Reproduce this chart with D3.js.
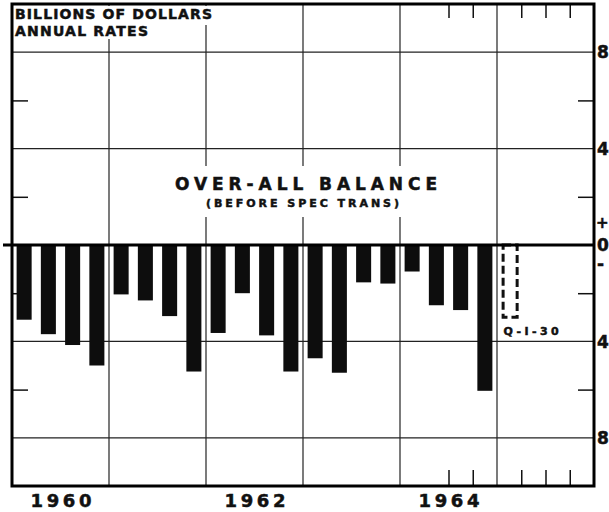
<!DOCTYPE html>
<html>
<head>
<meta charset="utf-8">
<script src="https://cdn.jsdelivr.net/npm/d3@7"></script>
<style>
  body { margin: 0; background: #fff; }
  svg { display: block; }
  text { font-family: "DejaVu Sans", sans-serif; font-weight: bold; fill: #111; stroke: #111; stroke-width: 0.5; }
</style>
</head>
<body>
<svg id="chart" width="609" height="512"></svg>
<script>
// Quarterly over-all balance, billions of dollars, annual rates
const years = [1960, 1961, 1962, 1963, 1964, 1965];
const quarters = ["Q1", "Q2", "Q3", "Q4"];
const balance = [
    -3.1, -3.7, -4.15, -5.0,    // 1960
    -2.05, -2.3, -2.95, -5.25,  // 1961
    -3.65, -2.0, -3.75, -5.25,  // 1962
    -4.7, -5.3, -1.55, -1.6,    // 1963
    -1.1, -2.5, -2.7, -6.05     // 1964
];
const prelimValue = -3.0;       // 1965 Q-I (dashed)
const prelimLabel = "Q-I-30";
const yearLabels = ["1960", "1962", "1964"];
const gridValues = [8, 4, -4, -8];
const minorTicks = [6, 2, -2, -6];
const edgeTicks = [1964.5, 1964.75, 1965.25, 1965.5, 1965.75];
const rightLabels = [
    { v: 8, t: "8" }, { v: 4, t: "4" }, { v: 0, t: "0" }, { v: -4, t: "4" }, { v: -8, t: "8" }
];

const svg = d3.select("#chart");
const plotLeft = 12, plotRight = 594, plotTop = 4, plotBottom = 486;

const x = d3.scaleLinear().domain([1960, 1966]).range([plotLeft, plotRight]);
const y = d3.scaleLinear().domain([-10, 10]).range([plotBottom, plotTop]);

// one band per quarter, 1960 Q1 .. 1965 Q4
const qKeys = [];
years.forEach(yr => quarters.forEach(q => qKeys.push(yr + q)));
const band = d3.scaleBand().domain(qKeys).range([plotLeft, plotRight])
    .paddingInner(0.38).paddingOuter(0.19);

// grid
svg.append("g").selectAll("line").data(gridValues).enter().append("line")
    .attr("x1", plotLeft).attr("x2", plotRight)
    .attr("y1", d => y(d)).attr("y2", d => y(d))
    .attr("stroke", "#222").attr("stroke-width", 1.2);

svg.append("g").selectAll("line").data(years.slice(1)).enter().append("line")
    .attr("x1", d => x(d)).attr("x2", d => x(d))
    .attr("y1", plotTop).attr("y2", plotBottom)
    .attr("stroke", "#222").attr("stroke-width", 1.2);

// minor ticks on both sides
svg.append("g").attr("transform", `translate(${plotLeft},0)`)
    .call(d3.axisLeft(y).tickValues(minorTicks).tickSize(-16).tickFormat(""))
    .call(g => g.select(".domain").remove())
    .selectAll("line").attr("stroke", "#111").attr("stroke-width", 1.5);
svg.append("g").attr("transform", `translate(${plotRight},0)`)
    .call(d3.axisRight(y).tickValues(minorTicks).tickSize(-16).tickFormat(""))
    .call(g => g.select(".domain").remove())
    .selectAll("line").attr("stroke", "#111").attr("stroke-width", 1.5);

// quarter ticks at top and bottom
svg.append("g").attr("transform", `translate(0,${plotTop})`)
    .call(d3.axisTop(x).tickValues(edgeTicks).tickSize(-14).tickFormat(""))
    .call(g => g.select(".domain").remove())
    .selectAll("line").attr("stroke", "#111").attr("stroke-width", 1.5);
svg.append("g").attr("transform", `translate(0,${plotBottom})`)
    .call(d3.axisBottom(x).tickValues(edgeTicks).tickSize(-16).tickFormat(""))
    .call(g => g.select(".domain").remove())
    .selectAll("line").attr("stroke", "#111").attr("stroke-width", 1.5);

// white patches behind the texts
svg.append("rect").attr("x", plotLeft + 1).attr("y", plotTop + 2).attr("width", 203).attr("height", 19).attr("fill", "#fff");
svg.append("rect").attr("x", plotLeft + 1).attr("y", plotTop + 20).attr("width", 140).attr("height", 15).attr("fill", "#fff");
svg.append("rect").attr("x", 165).attr("y", 166).attr("width", 280).attr("height", 51).attr("fill", "#fff");

// bars
svg.append("g").selectAll("rect").data(balance).enter().append("rect")
    .attr("x", (d, i) => band(qKeys[i]))
    .attr("width", band.bandwidth())
    .attr("y", d => y(Math.max(0, d)))
    .attr("height", d => Math.abs(y(d) - y(0)))
    .attr("fill", "#0d0d0d");

// preliminary quarter, dashed outline
svg.append("rect")
    .attr("x", band("1965Q1") + 1.5)
    .attr("width", band.bandwidth() - 1)
    .attr("y", y(0))
    .attr("height", y(prelimValue) - y(0))
    .attr("fill", "none").attr("stroke", "#111")
    .attr("stroke-width", 3).attr("stroke-dasharray", "8,4");

svg.append("text")
    .attr("x", band("1965Q1") + 2).attr("y", y(prelimValue) + 18)
    .attr("font-size", 11).attr("textLength", 55).attr("lengthAdjust", "spacing")
    .text(prelimLabel);

// zero line and frame
svg.append("line").attr("x1", 3).attr("x2", plotRight)
    .attr("y1", y(0)).attr("y2", y(0))
    .attr("stroke", "#000").attr("stroke-width", 3);
svg.append("rect").attr("x", plotLeft).attr("y", plotTop)
    .attr("width", plotRight - plotLeft).attr("height", plotBottom - plotTop)
    .attr("fill", "none").attr("stroke", "#000").attr("stroke-width", 3);

// unit labels
svg.append("text").attr("x", 15).attr("y", 19)
    .attr("font-size", 14).attr("textLength", 197).attr("lengthAdjust", "spacing")
    .text("BILLIONS OF DOLLARS");
svg.append("text").attr("x", 15).attr("y", 36)
    .attr("font-size", 14).attr("textLength", 133).attr("lengthAdjust", "spacing")
    .text("ANNUAL RATES");

// title
svg.append("text").attr("x", 175).attr("y", 190)
    .attr("font-size", 17).attr("textLength", 262).attr("lengthAdjust", "spacing")
    .text("OVER-ALL BALANCE");
svg.append("text").attr("x", 206).attr("y", 207)
    .attr("font-size", 11).attr("textLength", 193).attr("lengthAdjust", "spacing")
    .text("(BEFORE SPEC TRANS)");

// right-hand scale labels
svg.append("g").selectAll("text").data(rightLabels).enter().append("text")
    .attr("x", plotRight + 3).attr("y", d => y(d.v))
    .attr("dy", "0.36em").attr("font-size", 17)
    .text(d => d.t);
svg.append("text").attr("x", plotRight + 2).attr("y", y(0) - 22)
    .attr("dy", "0.36em").attr("font-size", 15).text("+");
svg.append("text").attr("x", plotRight + 3).attr("y", y(0) + 19)
    .attr("dy", "0.36em").attr("font-size", 17).text("-");

// year labels, centred in their year
svg.append("g").selectAll("text").data(yearLabels).enter().append("text")
    .attr("x", d => x(+d + 0.5) - 30).attr("y", 507)
    .attr("font-size", 18).attr("textLength", 61).attr("lengthAdjust", "spacing")
    .text(d => d);
</script>
</body>
</html>
